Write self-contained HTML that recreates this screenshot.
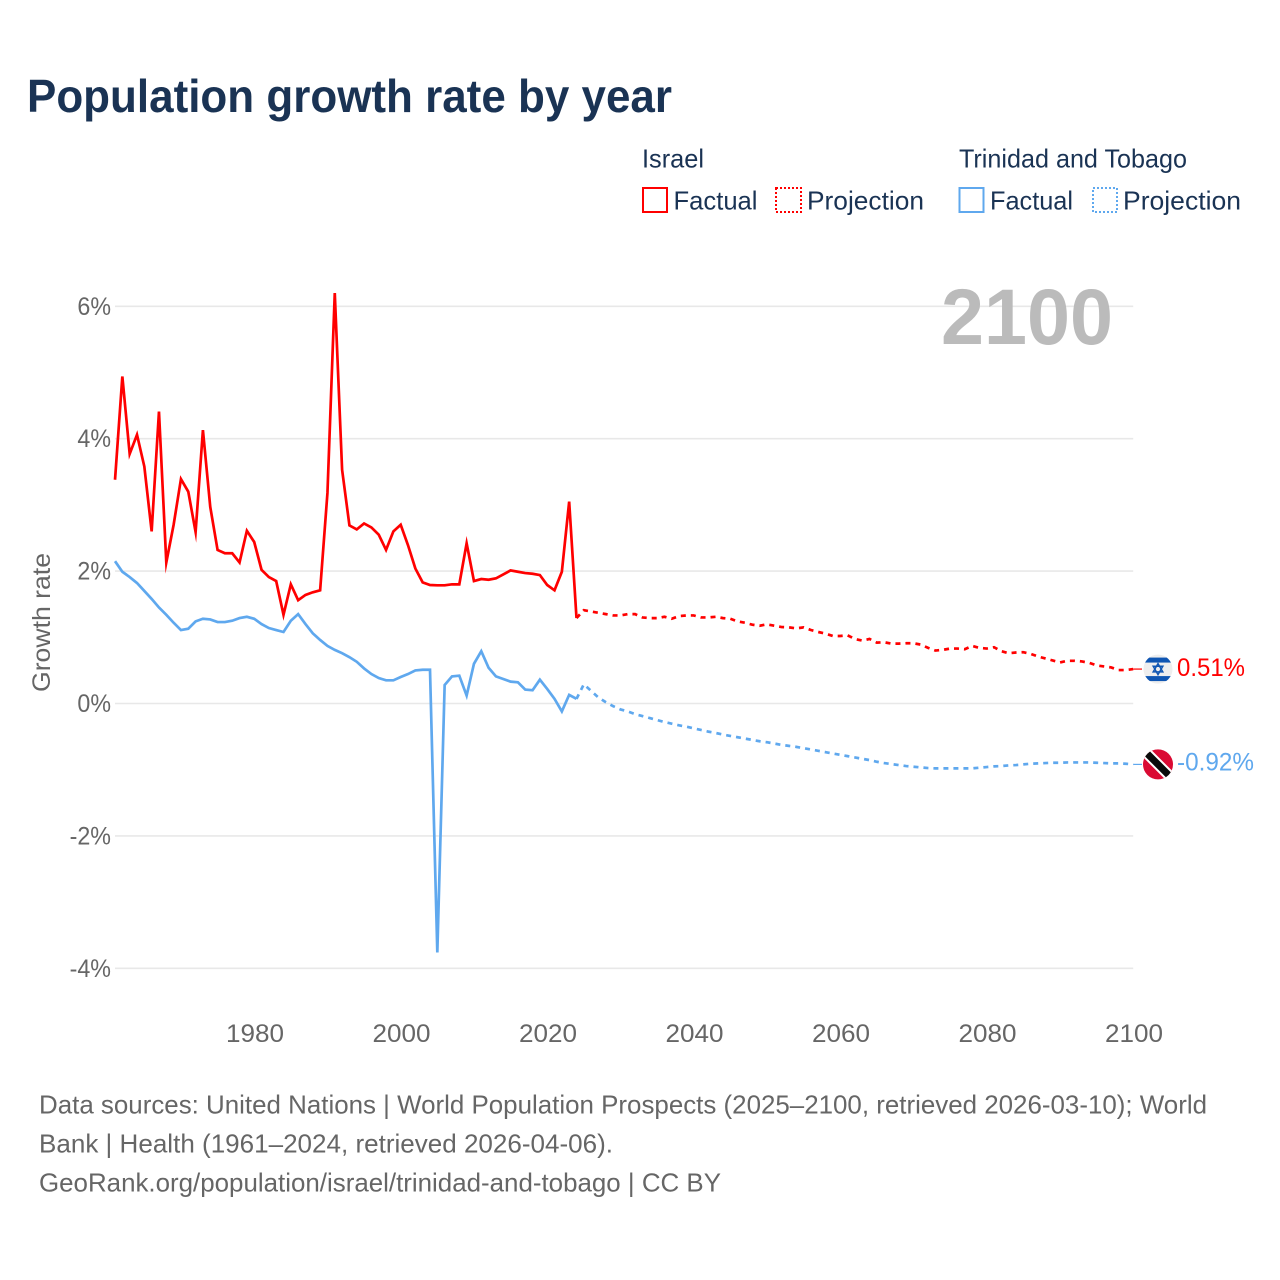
<!DOCTYPE html>
<html lang="en">
<head>
<meta charset="utf-8">
<title>Population growth rate by year</title>
<style>
html,body{margin:0;padding:0;background:#fff;}
svg{display:block;font-family:"Liberation Sans",Arial,sans-serif;}
</style>
</head>
<body>
<svg id="chart" xmlns="http://www.w3.org/2000/svg" width="1280" height="1280" viewBox="0 0 1280 1280">
  <rect x="0" y="0" width="1280" height="1280" fill="#ffffff"/>
  <text x="27" y="112" font-size="46" font-weight="700" fill="#1a3354" textLength="645" lengthAdjust="spacingAndGlyphs">Population growth rate by year</text>

  <g font-size="26" fill="#1a3354">
    <text x="642" y="167.500" textLength="62" lengthAdjust="spacingAndGlyphs">Israel</text>
    <rect x="643" y="188" width="24" height="24" fill="none" stroke="#ff0000" stroke-width="2"/>
    <text x="673.500" y="209.500" textLength="84" lengthAdjust="spacingAndGlyphs">Factual</text>
    <rect x="776" y="188" width="25" height="24" fill="none" stroke="#ff0000" stroke-width="2" stroke-dasharray="2 2"/>
    <text x="807" y="209.500" textLength="117" lengthAdjust="spacingAndGlyphs">Projection</text>
    <text x="959" y="167.500" textLength="228" lengthAdjust="spacingAndGlyphs">Trinidad and Tobago</text>
    <rect x="959.500" y="188" width="24" height="24" fill="none" stroke="#5fa8ee" stroke-width="2"/>
    <text x="990" y="209.500" textLength="83" lengthAdjust="spacingAndGlyphs">Factual</text>
    <rect x="1093" y="188" width="24" height="24" fill="none" stroke="#5fa8ee" stroke-width="2" stroke-dasharray="2 2"/>
    <text x="1123" y="209.500" textLength="118" lengthAdjust="spacingAndGlyphs">Projection</text>
  </g>

  <g id="grid"></g>
  <g id="yticks" font-size="25" fill="#666666"></g>
  <g id="xticks" font-size="25" fill="#666666"></g>
  <text transform="translate(50,622.500) rotate(-90)" text-anchor="middle" font-size="25" fill="#666666" textLength="139" lengthAdjust="spacingAndGlyphs">Growth rate</text>
  <text x="941" y="344" font-size="79" font-weight="700" fill="#bbbbbb" textLength="172" lengthAdjust="spacingAndGlyphs">2100</text>

  <g id="series"></g>

  <g id="flag-israel"></g>
  <g id="flag-trinidad"></g>
  <g id="endlabels" font-size="25"></g>

  <g font-size="26" fill="#666666">
    <text x="39" y="1113.500" textLength="1168" lengthAdjust="spacingAndGlyphs">Data sources: United Nations | World Population Prospects (2025–2100, retrieved 2026-03-10); World</text>
    <text x="39" y="1152.500" textLength="574" lengthAdjust="spacingAndGlyphs">Bank | Health (1961–2024, retrieved 2026-04-06).</text>
    <text x="39" y="1191.500" textLength="682" lengthAdjust="spacingAndGlyphs">GeoRank.org/population/israel/trinidad-and-tobago | CC BY</text>
  </g>
</svg>
<script>
const xTickYears = [1980, 2000, 2020, 2040, 2060, 2080, 2100];
const yTickValues = [6, 4, 2, 0, -2, -4];
const yTickLabels = ['6%', '4%', '2%', '0%', '-2%', '-4%'];
const factualStartYear = 1961;
const projectionStartYear = 2024;
const israelEndLabel = '0.51%';
const trinidadEndLabel = '-0.92%';

const israelFactual = [3.38,4.94,3.77,4.06,3.58,2.60,4.41,2.13,2.70,3.39,3.20,2.59,4.13,2.97,2.32,2.27,2.27,2.13,2.61,2.44,2.02,1.91,1.85,1.34,1.80,1.56,1.64,1.68,1.71,3.18,6.20,3.53,2.69,2.63,2.72,2.66,2.55,2.32,2.60,2.70,2.39,2.04,1.83,1.79,1.785,1.785,1.80,1.80,2.42,1.85,1.88,1.87,1.89,1.95,2.01,1.99,1.97,1.96,1.94,1.79,1.71,1.99,3.05,1.29];
const israelProjection = [1.29,1.41,1.39,1.37,1.35,1.33,1.33,1.35,1.35,1.30,1.29,1.29,1.31,1.28,1.32,1.33,1.33,1.30,1.30,1.31,1.29,1.28,1.24,1.22,1.19,1.175,1.195,1.175,1.155,1.15,1.135,1.15,1.11,1.08,1.055,1.02,1.02,1.03,0.975,0.95,0.975,0.92,0.925,0.905,0.905,0.91,0.91,0.89,0.84,0.80,0.81,0.83,0.83,0.82,0.87,0.84,0.83,0.85,0.79,0.76,0.77,0.775,0.75,0.71,0.68,0.65,0.62,0.645,0.645,0.635,0.615,0.575,0.56,0.545,0.505,0.505,0.52];
const trinidadFactual = [2.15,1.99,1.91,1.82,1.70,1.58,1.45,1.34,1.22,1.11,1.13,1.24,1.28,1.27,1.23,1.23,1.25,1.29,1.31,1.28,1.20,1.14,1.11,1.08,1.25,1.35,1.20,1.06,0.96,0.87,0.81,0.76,0.70,0.63,0.53,0.445,0.385,0.35,0.35,0.40,0.445,0.50,0.51,0.51,-3.76,0.28,0.41,0.42,0.12,0.60,0.79,0.54,0.41,0.37,0.33,0.32,0.21,0.20,0.36,0.22,0.07,-0.12,0.13,0.07];
const trinidadProjection = [0.07,0.29,0.19,0.09,0.02,-0.04,-0.09,-0.12,-0.16,-0.19,-0.22,-0.25,-0.28,-0.305,-0.33,-0.35,-0.375,-0.40,-0.425,-0.445,-0.47,-0.49,-0.51,-0.53,-0.55,-0.57,-0.585,-0.605,-0.625,-0.64,-0.655,-0.675,-0.695,-0.715,-0.735,-0.755,-0.775,-0.795,-0.815,-0.835,-0.855,-0.88,-0.90,-0.915,-0.93,-0.945,-0.955,-0.965,-0.975,-0.98,-0.98,-0.98,-0.98,-0.98,-0.98,-0.97,-0.96,-0.95,-0.945,-0.935,-0.93,-0.92,-0.91,-0.905,-0.90,-0.895,-0.895,-0.89,-0.89,-0.89,-0.89,-0.895,-0.90,-0.905,-0.905,-0.91,-0.92];

const NS = 'http://www.w3.org/2000/svg';
const RED = '#ff0000';
const BLUE = '#5fa8ee';
const xScale = function (year) { return 254.2 + (year - 1980) * 7.325; };
const yScale = function (v) { return 703.5 - v * 66.2; };

function make(tag, parent, attrs) {
  const el = document.createElementNS(NS, tag);
  Object.keys(attrs).forEach(function (k) { el.setAttribute(k, attrs[k]); });
  parent.appendChild(el);
  return el;
}
function linePath(values, startYear) {
  return values.map(function (v, i) {
    return (i ? 'L' : 'M') + xScale(startYear + i).toFixed(2) + ' ' + yScale(v).toFixed(2);
  }).join(' ');
}

const grid = document.getElementById('grid');
const yTicks = document.getElementById('yticks');
yTickValues.forEach(function (v, i) {
  const gl = make('line', grid, {x1: xScale(1961), x2: xScale(2100), y1: yScale(v), y2: yScale(v), stroke: '#e8e8e8', 'stroke-width': 1.6});
  
  
  const t = make('text', yTicks, {x: 111, y: yScale(v) + 8.5, 'text-anchor': 'end'});
  
  
  t.textContent = yTickLabels[i];
  t.setAttribute('textLength', (t.getComputedTextLength() * 0.93).toFixed(1));
  t.setAttribute('lengthAdjust', 'spacingAndGlyphs');
});

const xTicks = document.getElementById('xticks');
xTickYears.forEach(function (year) {
  const t = make('text', xTicks, {x: xScale(year) + 0.8, y: 1042, 'text-anchor': 'middle', textLength: 58, lengthAdjust: 'spacingAndGlyphs'});
  
  
  t.textContent = String(year);
});

const seriesGroup = document.getElementById('series');
const common = {fill: 'none', 'stroke-width': 2.7, 'stroke-linejoin': 'miter', 'stroke-miterlimit': 10};

const blueFact = make('path', seriesGroup, Object.assign({d: linePath(trinidadFactual, factualStartYear), stroke: BLUE}, common));



const blueProj = make('path', seriesGroup, Object.assign({d: linePath(trinidadProjection, projectionStartYear), stroke: BLUE, 'stroke-dasharray': '5 5'}, common));



const redFact = make('path', seriesGroup, Object.assign({d: linePath(israelFactual, factualStartYear), stroke: RED}, common));



const redProj = make('path', seriesGroup, Object.assign({d: linePath(israelProjection, projectionStartYear), stroke: RED, 'stroke-dasharray': '5 5'}, common));



const israelLast = israelProjection[israelProjection.length - 1];
const trinidadLast = trinidadProjection[trinidadProjection.length - 1];
const flagX = xScale(2100) + 24.8;
const israelY = yScale(israelLast);
const trinidadY = yScale(trinidadLast);

const redConn = make('line', seriesGroup, {x1: xScale(2100), x2: flagX - 16, y1: israelY, y2: israelY, stroke: RED, 'stroke-width': 1.2});


const blueConn = make('line', seriesGroup, {x1: xScale(2100), x2: flagX - 16, y1: trinidadY, y2: trinidadY, stroke: BLUE, 'stroke-width': 1.2});



/* Israel flag */
const fi = document.getElementById('flag-israel');
fi.setAttribute('transform', 'translate(' + flagX + ',' + israelY + ')');
const clipDefs = make('defs', document.getElementById('chart'), {});
const clipI = make('clipPath', clipDefs, {id: 'clip-flag-i'});
make('circle', clipI, {cx: 0, cy: 0, r: 14.5});
const clipT = make('clipPath', clipDefs, {id: 'clip-flag-t'});
make('circle', clipT, {cx: 0, cy: 0, r: 15});
const fiInner = make('g', fi, {'clip-path': 'url(#clip-flag-i)'});
make('rect', fiInner, {x: -15, y: -15, width: 30, height: 30, fill: '#eeeeee'});
make('rect', fiInner, {x: -15, y: -11.5, width: 30, height: 5, fill: '#0f56b3'});
make('rect', fiInner, {x: -15, y: 7, width: 30, height: 5, fill: '#0f56b3'});
make('polygon', fiInner, {points: '0,-5.5 4.8,2.8 -4.8,2.8', fill: 'none', stroke: '#0f56b3', 'stroke-width': 1.5});
make('polygon', fiInner, {points: '0,5.5 4.8,-2.8 -4.8,-2.8', fill: 'none', stroke: '#0f56b3', 'stroke-width': 1.5});

/* Trinidad and Tobago flag */
const ft = document.getElementById('flag-trinidad');
ft.setAttribute('transform', 'translate(' + flagX + ',' + trinidadY + ')');
const ftInner = make('g', ft, {'clip-path': 'url(#clip-flag-t)'});
make('rect', ftInner, {x: -16, y: -16, width: 32, height: 32, fill: '#da0a33'});
make('line', ftInner, {x1: -14, y1: -14, x2: 14, y2: 14, stroke: '#ffffff', 'stroke-width': 11});
make('line', ftInner, {x1: -14, y1: -14, x2: 14, y2: 14, stroke: '#0a0a0a', 'stroke-width': 7});

const endLabels = document.getElementById('endlabels');
const redLabel = make('text', endLabels, {x: 1177, y: israelY + 7, fill: RED, textLength: 68, lengthAdjust: 'spacingAndGlyphs'});


redLabel.textContent = israelEndLabel;
const blueLabel = make('text', endLabels, {x: 1177, y: trinidadY + 6, fill: BLUE, textLength: 77, lengthAdjust: 'spacingAndGlyphs'});


blueLabel.textContent = trinidadEndLabel;
</script>
</body>
</html>
